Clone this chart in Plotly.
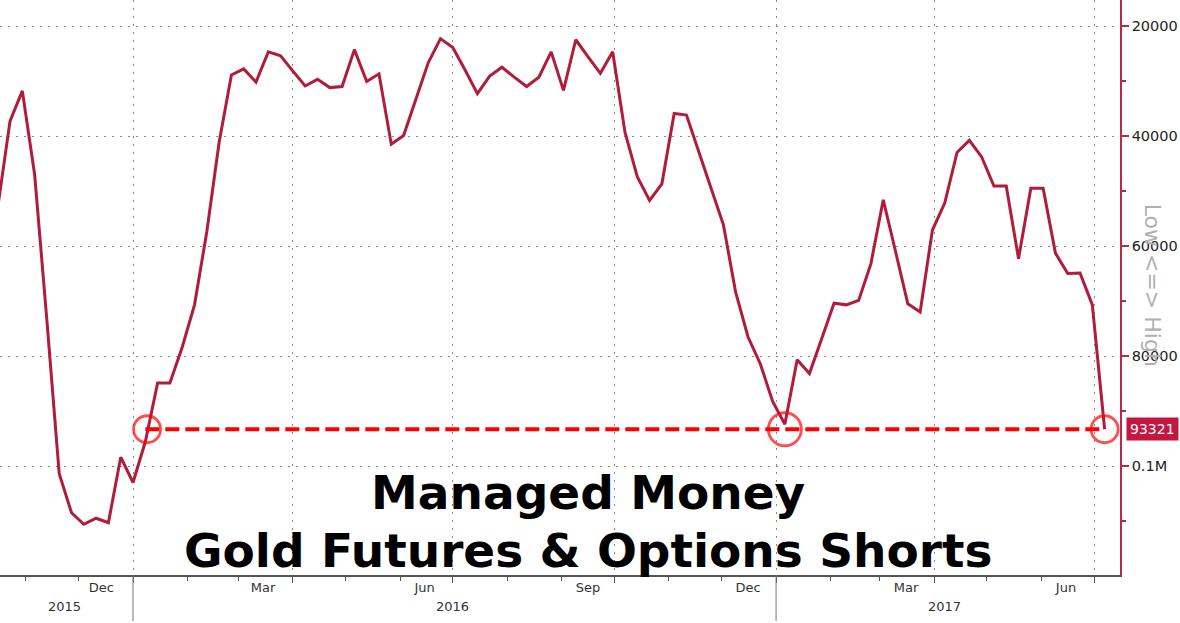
import pandas as pd
import plotly.graph_objects as go

# ---- data (weekly) ----
start_date = "2015-10-16"
n_weeks = 91
shorts = [
    53000, 37300, 31800, 47000, 73600, 101400, 108500, 110600, 109500, 110300, 98400,
    103000, 95600, 84900, 84900, 78400, 70700, 57400, 41200, 28900,
    27800, 30200, 24700, 25400, 28200, 30900, 29700, 31200, 31000,
    24300, 30100, 28700, 41500, 39900, 33300, 26700, 22300,
    23900, 28000, 32300, 29100, 27500, 29300, 31000, 29300, 24700,
    31700, 22500, 25600, 28600, 24700, 39300, 47400, 51700, 48700,
    35900, 36200, 43000, 49500, 56100, 68400, 76500, 81400, 88200,
    92400, 80700, 83200, 76800, 70400, 70700, 69900, 63200,
    51600, 61000, 70500, 72000, 57100, 52200, 43000, 40800, 43800,
    49100, 49100, 62300, 49500, 49500, 61300, 65000, 64900, 70700, 93321,
]
dates = pd.date_range(start_date, periods=n_weeks, freq="7D")

last_value = 93321
ref_start = "2016-01-08"
ref_end = "2017-07-07"
circle_dates = ["2016-01-09", "2017-01-06", "2017-07-07"]

y_tickvals = [20000, 40000, 60000, 80000, 100000]
y_ticktext = ["20000", "40000", "60000", "80000", "0.1M"]

month_label_dates = ["2015-12-14", "2016-03-15", "2016-06-15", "2016-09-16",
                     "2016-12-16", "2017-03-16", "2017-06-15"]
month_labels = ["Dec", "Mar", "Jun", "Sep", "Dec", "Mar", "Jun"]
quarter_starts = ["2016-01-01", "2016-04-01", "2016-07-01", "2016-10-01",
                  "2017-01-01", "2017-04-01", "2017-07-01"]
year_label_dates = ["2015-11-23", "2016-07-01", "2017-04-07"]
year_labels = ["2015", "2016", "2017"]
year_breaks = ["2016-01-01", "2017-01-01"]

x_range = ["2015-10-17 07:00", "2017-07-15 18:00"]
y_range = [119818, 15273]

LINE = "#b01c3c"
AXIS_RED = "#b8294a"
FONT = "DejaVu Sans"

fig = go.Figure()
fig.add_trace(go.Scatter(x=dates, y=shorts, mode="lines",
                         line=dict(color=LINE, width=3), showlegend=False,
                         hoverinfo="skip"))
fig.add_trace(go.Scatter(x=[ref_start, ref_end], y=[last_value, last_value],
                         mode="lines", line=dict(color="#ff0000", width=4, dash="14px,6px"),
                         showlegend=False, hoverinfo="skip"))
fig.add_trace(go.Scatter(x=circle_dates, y=[last_value] * 3, mode="markers",
                         marker=dict(symbol="circle-open", size=[27, 33, 27],
                                     color="#ff0000", line=dict(width=2.8, color="#ff0000")),
                         showlegend=False, hoverinfo="skip"))
# dummy trace for the quarter axis
fig.add_trace(go.Scatter(x=dates[:1], y=shorts[:1], xaxis="x2", mode="markers",
                         marker=dict(opacity=0), showlegend=False, hoverinfo="skip"))

fig.update_layout(
    width=1180, height=623,
    margin=dict(l=0, r=60, t=0, b=48),
    paper_bgcolor="white", plot_bgcolor="white",
    font=dict(family=FONT, color="#333333"),
    xaxis=dict(
        type="date", range=x_range,
        tickmode="array", tickvals=month_label_dates, ticktext=month_labels,
        ticks="", showgrid=False, zeroline=False,
        tickfont=dict(family=FONT, size=13, color="#333333"),
        showline=True, linecolor="#555555", linewidth=1.5,
        minor=dict(dtick="M1", tick0="2015-10-01", ticks="outside", ticklen=4,
                   tickcolor="#555555", showgrid=False),
    ),
    xaxis2=dict(
        type="date", range=x_range, overlaying="x", anchor="y", side="bottom",
        tickmode="array", tickvals=quarter_starts, showticklabels=False,
        ticks="outside", ticklen=7, tickcolor="#555555",
        showgrid=True, gridcolor="#8a8a8a", gridwidth=1, griddash="2px,6px",
        zeroline=False, showline=False,
    ),
    yaxis=dict(
        range=y_range, side="right",
        tickmode="array", tickvals=y_tickvals, ticktext=y_ticktext,
        ticks="outside", ticklen=7, tickwidth=2, tickcolor=AXIS_RED,
        tickfont=dict(family=FONT, size=14.5, color="#222222"),
        showgrid=True, gridcolor="#8a8a8a", gridwidth=1, griddash="2px,6px",
        zeroline=False, showline=True, linecolor=AXIS_RED, linewidth=1.5,
        minor=dict(dtick=10000, tick0=0, ticks="outside", ticklen=4,
                   tickcolor=AXIS_RED, showgrid=False),
    ),
)

annotations = []
for d, t in zip(year_label_dates, year_labels):
    annotations.append(dict(x=d, xref="x", y=-0.054, yref="paper", text=t,
                            showarrow=False, xanchor="center", yanchor="middle",
                            font=dict(family=FONT, size=13, color="#333333")))
annotations += [
    dict(x=0.525, xref="paper", y=0.143, yref="paper", text="Managed Money",
         showarrow=False, xanchor="center", yanchor="middle",
         font=dict(family=FONT, size=47, color="black", weight="bold")),
    dict(x=0.525, xref="paper", y=0.042, yref="paper", text="Gold Futures & Options Shorts",
         showarrow=False, xanchor="center", yanchor="middle",
         font=dict(family=FONT, size=47, color="black", weight="bold")),
    dict(x=1, xref="paper", xshift=6, y=last_value, yref="y", text=str(last_value),
         showarrow=False, xanchor="left", yanchor="middle", bgcolor="#c4173f",
         borderpad=3, font=dict(family=FONT, size=14, color="white")),
    dict(x=1, xref="paper", xshift=32, y=0.505, yref="paper", text="Low <=> High",
         showarrow=False, textangle=90, xanchor="center", yanchor="middle",
         font=dict(family=FONT, size=22, color="#b0b0b0")),
]
fig.update_layout(annotations=annotations)

shapes = []
for d in year_breaks:
    shapes.append(dict(type="line", xref="x", x0=d, x1=d, yref="paper", y0=0, y1=-0.08,
                       line=dict(color="#777777", width=1)))
fig.update_layout(shapes=shapes)

fig.write_html(
    "out.html",
    config={"displayModeBar": False},
    post_script="document.body.style.margin='0';document.body.style.overflow='hidden';",
)
